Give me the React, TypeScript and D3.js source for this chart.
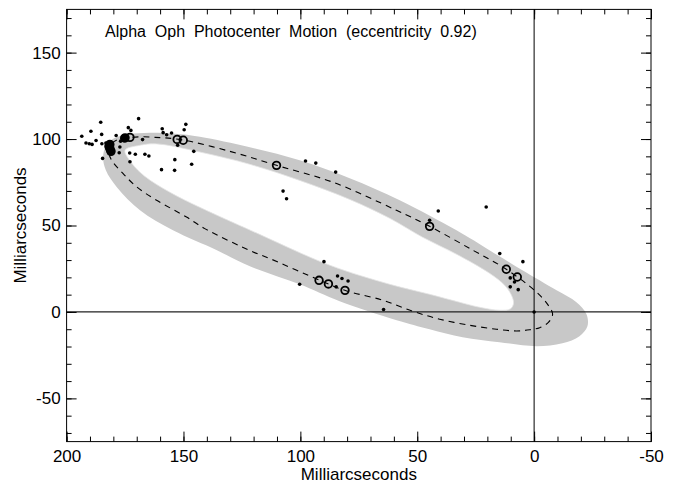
import { useEffect, useRef } from "react";
import * as d3 from "d3";

// Axis ticks
const xMajor = [200, 150, 100, 50, 0, -50];
const yMajor = [150, 100, 50, 0, -50];
const xMinor = d3.range(-50, 201, 10);
const yMinor = d3.range(-70, 171, 10);

// Best-fit orbit (dashed), in mas
const orbitX = [181.9, 180.6, 178.0, 173.9, 168.6, 162.2, 151.2, 130.2, 110.2, 86.0, 58.9, 44.7, 26.2, 11.9, -0.9, -5.7, -7.9, -6.2, -2.4, 1.9, 7.5, 16.1, 27.6, 40.4, 51.9, 64.8, 81.0, 91.7, 113.1, 120.2, 140.9, 148.7, 161.5, 170.0, 175.8, 180.7];
const orbitY = [92.3, 97.5, 99.8, 100.8, 101.3, 101.0, 99.7, 92.9, 84.8, 75.0, 58.8, 49.5, 35.7, 24.7, 11.6, 4.5, -1.3, -5.9, -9.1, -10.3, -11.0, -10.0, -7.7, -4.2, 0.4, 6.8, 12.5, 18.3, 30.9, 34.7, 48.2, 54.9, 64.6, 72.3, 80.0, 87.7];

// Envelope of the orbit solutions (grey band): outer edge and inner hole
const bandOuterX = [184.4, 183.2, 179.7, 173.8, 164.4, 153.7, 143.0, 121.6, 100.3, 78.9, 57.5, 33.2, 19.1, 5.0, -9.6, -18.1, -22.4, -22.8, -19.4, -12.1, -1.0, 14.8, 30.6, 44.7, 58.8, 83.2, 100.3, 121.6, 135.7, 154.5, 168.6, 178.5, 183.2];
const bandOuterY = [89.4, 95.8, 100.4, 102.7, 103.6, 103.0, 101.3, 95.2, 87.7, 77.3, 64.6, 47.2, 35.7, 24.1, 12.5, 5.6, -1.3, -8.3, -14.0, -18.1, -19.8, -17.5, -14.6, -10.0, -4.8, 6.2, 16.0, 26.4, 35.7, 47.2, 58.8, 72.1, 81.9];
const bandInnerX = [175.0, 168.6, 161.4, 143.0, 121.6, 100.3, 78.9, 61.8, 47.7, 33.2, 19.1, 12.6, 9.7, 8.8, 10.1, 14.8, 23.3, 31.9, 44.7, 61.8, 87.4, 120.3, 143.0, 155.8, 166.5, 172.1];
const bandInnerY = [93.5, 96.4, 97.2, 92.5, 85.4, 76.1, 65.1, 54.2, 43.2, 33.4, 22.4, 15.4, 9.7, 5.0, 1.8, 1.0, 2.7, 5.6, 10.2, 16.0, 27.0, 46.6, 60.5, 69.2, 78.4, 86.0];

// Individual measurements (small dots)
const dotX = [193.5, 185.4, 189.6, 191.7, 190.3, 189.1, 187.4, 185.0, 184.9, 183.2, 184.6, 178.8, 177.2, 176.9, 173.6, 172.5, 173.0, 172.9, 170.6, 169.2, 167.5, 166.5, 164.8, 159.1, 158.7, 157.2, 155.1, 159.4, 153.7, 153.8, 152.5, 149.7, 149.0, 145.6, 146.5, 107.4, 105.9, 97.8, 93.4, 84.9, 41.0, 20.5, 44.7, 14.7, 4.8, 10.2, 8.4, 10.2, 6.8, 0.0, 89.9, 84.1, 82.2, 79.6, 100.3, 84.7, 64.4, 177.5];
const dotY = [101.6, 109.7, 104.5, 97.7, 97.3, 96.9, 99.2, 102.7, 97.3, 97.7, 88.8, 102.1, 95.4, 98.8, 106.6, 105.0, 91.9, 86.9, 91.2, 111.8, 99.7, 91.2, 90.2, 106.0, 103.7, 102.5, 103.5, 82.3, 88.1, 81.9, 96.4, 105.4, 108.5, 92.9, 85.4, 69.9, 65.5, 87.3, 86.1, 80.9, 58.4, 60.7, 53.0, 33.8, 29.1, 19.7, 17.3, 14.5, 12.9, 0.0, 29.1, 20.8, 19.3, 17.9, 16.0, 14.5, 1.4, 92.1];

// Normal points (open circles)
const ptX = [181.5, 181.5, 181.0, 181.9, 175.0, 172.9, 152.7, 150.1, 110.2, 44.7, 11.9, 7.2, 92.0, 88.0, 80.9];
const ptY = [96.9, 94.6, 92.9, 95.8, 100.7, 101.0, 99.8, 99.3, 84.8, 49.5, 24.7, 20.2, 18.3, 16.2, 12.5];

// Overlapping points that merge into solid blobs
const blobX = [181.5, 181.4, 181.2, 175.3];
const blobY = [96.6, 94.6, 92.9, 100.5];

const W = 678;
const H = 485;
const left = 66.6, right = 651, top = 9.4, bottom = 441.6;
const FONT = "'Liberation Sans', Arial, Helvetica, sans-serif";

export default function App() {
  const ref = useRef<SVGSVGElement | null>(null);

  useEffect(() => {
    const svg = d3.select(ref.current);
    svg.selectAll("*").remove();

    const x = d3.scaleLinear().domain([200, -50]).range([left, right]);
    const y = d3.scaleLinear().domain([-75, 175]).range([bottom, top]);

    const zip = (xs: number[], ys: number[]) => xs.map((v, i) => [v, ys[i]] as [number, number]);
    const closed = d3
      .line<[number, number]>()
      .x(d => x(d[0]))
      .y(d => y(d[1]))
      .curve(d3.curveCatmullRomClosed.alpha(0.5));

    // grey band
    svg
      .append("path")
      .attr("d", (closed(zip(bandOuterX, bandOuterY)) ?? "") + (closed(zip(bandInnerX, bandInnerY)) ?? ""))
      .attr("fill", "#c8c8c8")
      .attr("fill-rule", "evenodd");
    svg
      .append("path")
      .attr("d", closed(zip(bandInnerX, bandInnerY)))
      .attr("fill", "none")
      .attr("stroke", "#e4e4e4")
      .attr("stroke-width", 0.8);

    // zero lines
    svg
      .append("line")
      .attr("x1", left)
      .attr("x2", right)
      .attr("y1", y(0))
      .attr("y2", y(0))
      .attr("stroke", "#222")
      .attr("stroke-width", 1.2);
    svg
      .append("line")
      .attr("x1", x(0))
      .attr("x2", x(0))
      .attr("y1", top)
      .attr("y2", bottom)
      .attr("stroke", "#000")
      .attr("stroke-width", 1);

    // dashed orbit
    svg
      .append("path")
      .attr("d", closed(zip(orbitX, orbitY)))
      .attr("fill", "none")
      .attr("stroke", "#000")
      .attr("stroke-width", 1.1)
      .attr("stroke-dasharray", "6,5");

    // dots
    svg
      .append("g")
      .selectAll("circle")
      .data(zip(dotX, dotY))
      .enter()
      .append("circle")
      .attr("cx", d => x(d[0]))
      .attr("cy", d => y(d[1]))
      .attr("r", 1.8)
      .attr("fill", "#000");

    // open circles
    svg
      .append("g")
      .selectAll("circle")
      .data(zip(ptX, ptY))
      .enter()
      .append("circle")
      .attr("cx", d => x(d[0]))
      .attr("cy", d => y(d[1]))
      .attr("r", 3.8)
      .attr("fill", "none")
      .attr("stroke", "#000")
      .attr("stroke-width", 1.8);

    // merged blobs
    svg
      .append("g")
      .selectAll("circle")
      .data(zip(blobX, blobY))
      .enter()
      .append("circle")
      .attr("cx", d => x(d[0]))
      .attr("cy", d => y(d[1]))
      .attr("r", 4.2)
      .attr("fill", "#000");

    // frame
    svg
      .append("rect")
      .attr("x", left)
      .attr("y", top)
      .attr("width", right - left)
      .attr("height", bottom - top)
      .attr("fill", "none")
      .attr("stroke", "#000")
      .attr("stroke-width", 1);

    const fmt = (d: d3.NumberValue) => String(d);
    const addAxis = (axis: d3.Axis<d3.NumberValue>, tx: number, ty: number, labels: boolean) => {
      const g = svg.append("g").attr("transform", `translate(${tx},${ty})`).call(axis);
      g.select(".domain").remove();
      g.selectAll("line").attr("stroke", "#000");
      g.selectAll("text")
        .attr("font-family", FONT)
        .attr("font-size", 17)
        .attr("fill", "#000");
      if (!labels) g.selectAll("text").remove();
      g.attr("font-family", null).attr("font-size", null);
    };

    // bottom
    addAxis(d3.axisBottom(x).tickValues(xMajor).tickSizeInner(-10).tickSizeOuter(0).tickPadding(8).tickFormat(fmt), 0, bottom, true);
    addAxis(d3.axisBottom(x).tickValues(xMinor).tickSizeInner(-5).tickSizeOuter(0).tickFormat(() => ""), 0, bottom, false);
    // top
    addAxis(d3.axisTop(x).tickValues(xMajor).tickSizeInner(-10).tickSizeOuter(0), 0, top, false);
    addAxis(d3.axisTop(x).tickValues(xMinor).tickSizeInner(-5).tickSizeOuter(0), 0, top, false);
    // left
    addAxis(d3.axisLeft(y).tickValues(yMajor).tickSizeInner(-10).tickSizeOuter(0).tickPadding(6).tickFormat(fmt), left, 0, true);
    addAxis(d3.axisLeft(y).tickValues(yMinor).tickSizeInner(-5).tickSizeOuter(0).tickFormat(() => ""), left, 0, false);
    // right
    addAxis(d3.axisRight(y).tickValues(yMajor).tickSizeInner(-10).tickSizeOuter(0), right, 0, false);
    addAxis(d3.axisRight(y).tickValues(yMinor).tickSizeInner(-5).tickSizeOuter(0), right, 0, false);

    // titles
    svg
      .append("text")
      .attr("x", 105)
      .attr("y", 37)
      .attr("font-family", FONT)
      .attr("font-size", 16)
      .style("white-space", "pre")
      .text("Alpha  Oph  Photocenter  Motion  (eccentricity  0.92)");
    svg
      .append("text")
      .attr("x", (left + right) / 2)
      .attr("y", 480)
      .attr("text-anchor", "middle")
      .attr("font-family", FONT)
      .attr("font-size", 17)
      .text("Milliarcseconds");
    svg
      .append("text")
      .attr("transform", `translate(26,${(top + bottom) / 2}) rotate(-90)`)
      .attr("text-anchor", "middle")
      .attr("font-family", FONT)
      .attr("font-size", 17)
      .text("Milliarcseconds");
  }, []);

  return (
    <svg
      ref={ref}
      width={W}
      height={H}
      style={{ position: "absolute", left: 0, top: 0, background: "#fff" }}
    />
  );
}
